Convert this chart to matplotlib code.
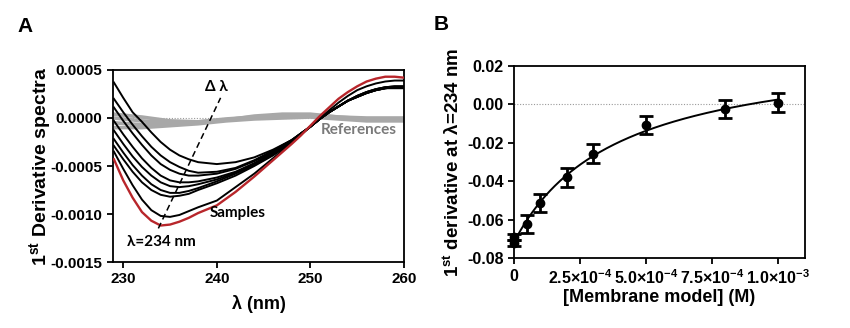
import numpy as np
import matplotlib
matplotlib.use("Agg")
import matplotlib.pyplot as plt

plt.rcParams['font.family'] = ['Liberation Sans', 'DejaVu Sans']
plt.rcParams['font.weight'] = 'bold'
plt.rcParams['axes.unicode_minus'] = False
plt.rcParams['mathtext.fontset'] = 'custom'
plt.rcParams['mathtext.rm'] = 'Liberation Sans:bold'
plt.rcParams['mathtext.bf'] = 'Liberation Sans:bold'
plt.rcParams['mathtext.default'] = 'bf'

# ---- panel A: first-derivative spectra ----
wl = [229, 230, 231, 232, 233, 234, 235, 236, 237, 238,
      240, 242, 244, 246, 248, 249, 250, 251, 252, 253, 254, 255, 256, 257, 258, 259, 260]

samples = [
    [0.00037, 0.00021, 0.00006, -0.00004, -0.00015, -0.00025, -0.00033, -0.00039, -0.00043, -0.00046,
     -0.00048, -0.00046, -0.00041, -0.00033, -0.00023, -0.00016, -0.00009, -0.00001, 0.00006, 0.00012,
     0.00018, 0.00022, 0.00026, 0.00029, 0.00031, 0.00031, 0.00031],
    [0.00020, 0.00006, -0.00007, -0.00019, -0.00030, -0.00039, -0.00046, -0.00051, -0.00055, -0.00057,
     -0.00056, -0.00052, -0.00044, -0.00034, -0.00023, -0.00016, -0.00009, -0.00001, 0.00006, 0.00012,
     0.00018, 0.00023, 0.00027, 0.00030, 0.00032, 0.00032, 0.00032],
    [0.00011, -0.00003, -0.00016, -0.00028, -0.00039, -0.00048, -0.00054, -0.00058, -0.00060, -0.00060,
     -0.00058, -0.00053, -0.00045, -0.00035, -0.00023, -0.00016, -0.00009, -0.00001, 0.00006, 0.00012,
     0.00018, 0.00022, 0.00026, 0.00029, 0.00031, 0.00032, 0.00032],
    [-0.00003, -0.00017, -0.00030, -0.00042, -0.00052, -0.00060, -0.00065, -0.00067, -0.00067, -0.00066,
     -0.00062, -0.00056, -0.00047, -0.00036, -0.00024, -0.00016, -0.00009, -0.00001, 0.00006, 0.00012,
     0.00018, 0.00023, 0.00027, 0.00030, 0.00032, 0.00033, 0.00033],
    [-0.00013, -0.00027, -0.00040, -0.00051, -0.00060, -0.00067, -0.00071, -0.00072, -0.00071, -0.00069,
     -0.00064, -0.00057, -0.00048, -0.00037, -0.00024, -0.00016, -0.00009, -0.00001, 0.00006, 0.00012,
     0.00018, 0.00022, 0.00026, 0.00029, 0.00031, 0.00032, 0.00032],
    [-0.00022, -0.00036, -0.00049, -0.00060, -0.00069, -0.00075, -0.00078, -0.00078, -0.00076, -0.00073,
     -0.00066, -0.00058, -0.00049, -0.00038, -0.00025, -0.00017, -0.00009, -0.00001, 0.00006, 0.00012,
     0.00018, 0.00023, 0.00027, 0.00030, 0.00032, 0.00033, 0.00033],
    [-0.00029, -0.00043, -0.00056, -0.00067, -0.00075, -0.00080, -0.00082, -0.00081, -0.00079, -0.00075,
     -0.00068, -0.00060, -0.00050, -0.00039, -0.00026, -0.00017, -0.00009, -0.00001, 0.00006, 0.00012,
     0.00018, 0.00022, 0.00026, 0.00029, 0.00031, 0.00032, 0.00032],
    [-0.00035, -0.00053, -0.00070, -0.00085, -0.00096, -0.00102, -0.00103, -0.00101, -0.00097, -0.00093,
     -0.00086, -0.00072, -0.00058, -0.00042, -0.00026, -0.00017, -0.00009, 0.00000, 0.00008, 0.00016,
     0.00023, 0.00029, 0.00033, 0.00036, 0.00038, 0.00039, 0.00039],
]
sample_red = [-0.00043, -0.00065, -0.00083, -0.00098, -0.00107, -0.00112, -0.00111, -0.00108, -0.00104, -0.00099,
              -0.00091, -0.00077, -0.00061, -0.00044, -0.00027, -0.00018, -0.00008, 0.00002, 0.00011, 0.00020,
              0.00027, 0.00033, 0.00038, 0.00041, 0.00043, 0.00043, 0.00042]

wl_ref = [229, 232, 235, 238, 241, 244, 247, 250, 253, 256, 260]
references = [
    [0.00004, 0.00001, -0.00003, -0.00004, -0.00002, 0.00002, 0.00004, 0.00004, 0.00001, 0.00000, 0.00000],
    [0.00000, -0.00003, -0.00005, -0.00004, -0.00001, 0.00001, 0.00003, 0.00003, 0.00001, -0.00001, -0.00001],
    [-0.00005, -0.00007, -0.00007, -0.00005, -0.00002, 0.00000, 0.00001, 0.00002, 0.00000, -0.00002, -0.00002],
    [-0.00010, -0.00010, -0.00008, -0.00006, -0.00003, -0.00001, 0.00000, 0.00001, -0.00001, -0.00003, -0.00003],
]

# shift of the minimum (dashed guide)
shift_x = [233.75, 240.4]
shift_y = [-0.00115, 0.00021]

# ---- panel B: derivative at 234 nm vs lipid concentration ----
conc = [0.0, 0.0, 5e-5, 1e-4, 2e-4, 3e-4, 5e-4, 8e-4, 1e-3]
deriv = [-0.0691, -0.0722, -0.0621, -0.0514, -0.0380, -0.0257, -0.0109, -0.0024, 0.0007]
deriv_err = [0.0015, 0.0015, 0.0046, 0.0046, 0.0048, 0.0048, 0.0048, 0.0047, 0.0049]

fig = plt.figure(figsize=(8.5, 3.28), dpi=100)
axA = fig.add_axes([0.1329, 0.2012, 0.3424, 0.5854])
axB = fig.add_axes([0.6047, 0.2125, 0.3424, 0.5872])

for ax in (axA, axB):
    for s in ax.spines.values():
        s.set_linewidth(1.3)
    ax.tick_params(direction='out', length=4, width=1.3)
axA.tick_params(labelsize=11)
axB.tick_params(labelsize=11.5)

axA.axhline(0, color='#9a9a9a', ls=(0, (1, 1.5)), lw=0.8, zorder=1)
for r in references:
    axA.plot(wl_ref, r, color='#a8a8a8', lw=2.6, zorder=2, solid_capstyle='butt')
for s in samples:
    axA.plot(wl, s, color='black', lw=1.4, zorder=3)
axA.plot(wl, sample_red, color='#b8262b', lw=1.7, zorder=3)
axA.plot(shift_x, shift_y, color='black', ls=(0, (4, 2.5)), lw=1.1, zorder=5)

axA.set_xlim(228.9, 260)
axA.set_ylim(-0.0015, 0.0005)
axA.set_xticks([230, 240, 250, 260])
axA.set_yticks([0.0005, 0.0, -0.0005, -0.0010, -0.0015])
axA.set_yticklabels(['0.0005', '0.0000', '-0.0005', '-0.0010', '-0.0015'])

ann = dict(family=['Lato', 'DejaVu Sans'], fontweight='bold', fontsize=11)
axA.text(240.0, 0.00032, 'Δ λ', ha='center', va='center', **ann)
axA.text(255.2, -0.00012, 'References', ha='center', va='center', color='#7a7a7a', **ann)
axA.text(242.2, -0.00099, 'Samples', ha='center', va='center', **ann)
axA.text(234.1, -0.00129, 'λ=234 nm', ha='center', va='center', **ann)

axA.set_xlabel('λ (nm)', fontsize=13, fontweight='bold')
axA.set_ylabel('1$^{st}$ Derivative spectra', fontsize=14, fontweight='bold')
axA.xaxis.set_label_coords(0.5, -0.17)
axA.yaxis.set_label_coords(-0.205, 0.5)

# one-site hyperbolic fit, Kd by grid search, y0/Bmax by least squares
cx = np.array(conc)
cy = np.array(deriv)
best = None
for kd in np.linspace(5e-5, 2e-3, 2000):
    A = np.column_stack([np.ones_like(cx), cx / (kd + cx)])
    coef, res, *_ = np.linalg.lstsq(A, cy, rcond=None)
    sse = np.sum((A @ coef - cy) ** 2)
    if best is None or sse < best[0]:
        best = (sse, kd, coef)
_, kd, (y0, bmax) = best
xf = np.linspace(0, 1e-3, 300)
axB.plot(xf, y0 + bmax * xf / (kd + xf), color='black', lw=1.4, zorder=3)

axB.axhline(0, color='#9a9a9a', ls=(0, (1, 1.5)), lw=0.8, zorder=1)
axB.errorbar(conc, deriv, yerr=deriv_err, fmt='o', color='black', ms=6,
             elinewidth=2, capsize=5, capthick=2, zorder=4, clip_on=False)

axB.set_xlim(0, 1.101e-3)
axB.set_ylim(-0.08, 0.02)
axB.set_yticks([0.02, 0.0, -0.02, -0.04, -0.06, -0.08])
axB.set_yticklabels(['0.02', '0.00', '-0.02', '-0.04', '-0.06', '-0.08'])
axB.set_xticks([0, 2.5e-4, 5e-4, 7.5e-4, 1e-3])
axB.set_xticklabels(['0', '2.5×10$^{-4}$', '5.0×10$^{-4}$', '7.5×10$^{-4}$', '1.0×10$^{-3}$'])
axB.set_xlabel('[Membrane model] (M)', fontsize=13, fontweight='bold')
axB.set_ylabel('1$^{st}$ derivative at λ=234 nm', fontsize=13.5, fontweight='bold')
axB.xaxis.set_label_coords(0.5, -0.16)
axB.yaxis.set_label_coords(-0.175, 0.5)

for ax in (axA, axB):
    for lab in ax.get_xticklabels() + ax.get_yticklabels():
        lab.set_fontweight('bold')

fig.text(17 / 850, 1 - 26 / 328, 'A', fontsize=15, fontweight='bold', va='center')
fig.text(434 / 850, 1 - 25 / 328, 'B', fontsize=15, fontweight='bold', va='center')

fig.savefig('out.png', dpi=100)
